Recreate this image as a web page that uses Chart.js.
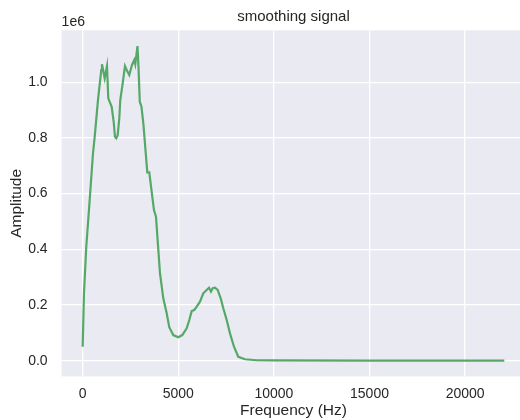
<!DOCTYPE html>
<html>
<head>
<meta charset="utf-8">
<title>smoothing signal</title>
<script src="https://cdn.jsdelivr.net/npm/chart.js@4/dist/chart.umd.min.js"></script>
<style>
    html, body { margin: 0; padding: 0; background: #ffffff; overflow: hidden; }
    #wrap { position: absolute; left: 0; top: 0; width: 540px; height: 420px; }
</style>
</head>
<body>
<div id="wrap"><canvas id="chart" width="540" height="420"></canvas></div>
<script>
// Frequency (Hz) and smoothed amplitude (in units of 1e6)
const frequencies = [
    0, 68, 188, 366, 539, 628, 800, 973, 1009, 1151,
    1271, 1339, 1517, 1621, 1689, 1757, 1831, 1914, 1966, 2092,
    2212, 2301, 2437, 2578, 2699, 2751, 2866, 2918, 2986, 3075,
    3180, 3284, 3379, 3483, 3640, 3729, 3834, 3938, 4043, 4215,
    4393, 4529, 4738, 5000, 5209, 5439, 5575, 5701, 5837, 5962,
    6135, 6307, 6485, 6605, 6710, 6799, 6919, 7060, 7217, 7353,
    7531, 7704, 7913, 8138, 8488, 9100, 10000, 15000, 20000, 22050
];
const amplitudes = [
    0.050, 0.242, 0.409, 0.577, 0.745, 0.804, 0.936, 1.044, 1.065, 1.014,
    1.058, 0.942, 0.912, 0.858, 0.804, 0.799, 0.810, 0.870, 0.936, 0.996,
    1.058, 1.044, 1.026, 1.062, 1.080, 1.065, 1.130, 1.056, 0.930, 0.912,
    0.846, 0.757, 0.676, 0.676, 0.589, 0.541, 0.517, 0.415, 0.314, 0.224,
    0.170, 0.120, 0.092, 0.084, 0.092, 0.116, 0.146, 0.178, 0.182, 0.194,
    0.212, 0.242, 0.254, 0.262, 0.248, 0.260, 0.262, 0.254, 0.224, 0.188,
    0.146, 0.098, 0.050, 0.014, 0.005, 0.0015, 0.0008, 0.0005, 0.0003, 0.0003
];

const xTicks = [0, 5000, 10000, 15000, 20000];
const yTicks = [0.0, 0.2, 0.4, 0.6, 0.8, 1.0];

const SCALE = 1e6;
const FONT = "'Liberation Sans', Arial, sans-serif";
const TEXT = '#262626';

// seaborn-like grey axes background
const plotBackground = {
    id: 'plotBackground',
    beforeDraw(chart) {
        const { ctx, chartArea: a } = chart;
        ctx.save();
        ctx.fillStyle = '#eaeaf2';
        ctx.fillRect(a.left, a.top, a.right - a.left, a.bottom - a.top);
        ctx.restore();
    },
    afterDraw(chart) {
        // scientific offset text above the y axis
        const { ctx, chartArea: a } = chart;
        ctx.save();
        ctx.fillStyle = TEXT;
        ctx.font = '14px ' + FONT;
        ctx.textAlign = 'left';
        ctx.textBaseline = 'alphabetic';
        ctx.fillText('1e6', a.left, a.top - 4);
        ctx.restore();
    }
};

const points = frequencies.map((f, i) => ({ x: f, y: amplitudes[i] * SCALE }));

new Chart(document.getElementById('chart').getContext('2d'), {
    type: 'line',
    data: {
        datasets: [{
            label: 'smoothed',
            data: points,
            borderColor: '#55a868',
            borderWidth: 2.2,
            pointRadius: 0,
            tension: 0,
            fill: false
        }]
    },
    options: {
        responsive: false,
        animation: false,
        devicePixelRatio: 1,
        layout: { padding: { left: 0, right: 14.6, top: 0, bottom: 0 } },
        plugins: {
            legend: { display: false },
            tooltip: { enabled: false },
            title: {
                display: true,
                fullSize: false,
                text: 'smoothing signal',
                color: TEXT,
                font: { family: FONT, size: 15, weight: 'normal', lineHeight: 1.2 },
                padding: { top: 8, bottom: 4.3 }
            }
        },
        scales: {
            x: {
                type: 'linear',
                min: -1102.5,
                max: 23152.5,
                afterBuildTicks: (scale) => { scale.ticks = xTicks.map(v => ({ value: v })); },
                afterFit: (scale) => { scale.height = 43.6; },
                grid: { color: '#ffffff', lineWidth: 1.3, drawTicks: false },
                border: { display: false },
                ticks: {
                    color: TEXT,
                    font: { family: FONT, size: 14 },
                    padding: 9,
                    maxRotation: 0,
                    callback: (v) => String(v)
                },
                title: {
                    display: true,
                    text: 'Frequency (Hz)',
                    color: TEXT,
                    font: { family: FONT, size: 15.5, lineHeight: 1.2 },
                    padding: { top: 0, bottom: 0 }
                }
            },
            y: {
                type: 'linear',
                min: -0.0565 * SCALE,
                max: 1.1865 * SCALE,
                afterBuildTicks: (scale) => { scale.ticks = yTicks.map(v => ({ value: v * SCALE })); },
                afterFit: (scale) => { scale.width = 61.6; },
                grid: { color: '#ffffff', lineWidth: 1.3, drawTicks: false },
                border: { display: false },
                ticks: {
                    color: TEXT,
                    font: { family: FONT, size: 14 },
                    padding: 14,
                    callback: (v) => (v / SCALE).toFixed(1)
                },
                title: {
                    display: true,
                    text: 'Amplitude',
                    color: TEXT,
                    font: { family: FONT, size: 15.5, lineHeight: 1.2 },
                    padding: { top: 7, bottom: 0 }
                }
            }
        }
    },
    plugins: [plotBackground]
});
</script>
</body>
</html>
